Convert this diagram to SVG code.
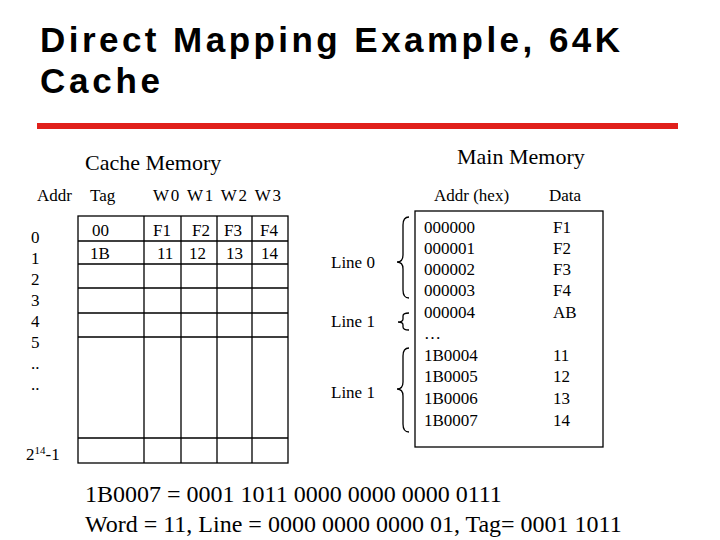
<svg xmlns="http://www.w3.org/2000/svg" width="720" height="540" viewBox="0 0 720 540">
<style>
.t{font-family:"Liberation Sans",Arial,sans-serif;font-weight:bold;font-size:35px;fill:#000}
.s{font-family:"Liberation Serif","Times New Roman",serif;font-size:17px;fill:#000}
.m{font-family:"Liberation Serif","Times New Roman",serif;font-size:22px;fill:#000}
.b{font-family:"Liberation Serif","Times New Roman",serif;font-size:24px;fill:#000}
.ln{stroke:#000;stroke-width:1.3;fill:none}
</style>
<rect width="720" height="540" fill="#fff"/>
<g id="title">
<text class="t" x="40" y="52" textLength="580" lengthAdjust="spacing">Direct Mapping Example, 64K</text>
<text class="t" x="40" y="93" textLength="120" lengthAdjust="spacing">Cache</text>
<rect x="37" y="123" width="641" height="6" fill="#e0201b"/>
</g>
<g id="cache">
<text class="m" x="85" y="170">Cache Memory</text>
<text class="s" x="37" y="201">Addr</text>
<text class="s" x="90" y="201">Tag</text>
<text class="s" x="153" y="201" textLength="128" lengthAdjust="spacing">W0  W1  W2  W3</text>
<rect class="ln" x="78" y="216" width="210" height="247"/>
<path class="ln" d="M78 241H288M78 264H288M78 288H288M78 313H288M78 337H288M78 438H288M144 216V463M181 216V463M217 216V463M252 216V463"/>
<g class="s">
<text x="31" y="243">0</text><text x="31" y="264">1</text><text x="31" y="285">2</text><text x="31" y="306">3</text><text x="31" y="327">4</text><text x="31" y="348">5</text><text x="31" y="369">..</text><text x="31" y="390">..</text>
<text x="26" y="460">2<tspan font-size="11" dy="-6">14</tspan><tspan dy="6">-1</tspan></text>
<text x="92" y="236">00</text><text x="90" y="259">1B</text>
<text x="153" y="236">F1</text><text x="192" y="236">F2</text><text x="224" y="236">F3</text><text x="260" y="236">F4</text>
<text x="157" y="259">11</text><text x="189" y="259">12</text><text x="226" y="259">13</text><text x="261" y="259">14</text>
</g>
</g>
<g id="mainmem">
<text class="m" x="457" y="164">Main Memory</text>
<text class="s" x="434" y="201">Addr (hex)</text>
<text class="s" x="549" y="201">Data</text>
<rect class="ln" x="415" y="211" width="188" height="236"/>
<g class="s">
<text x="424" y="233">000000</text><text x="424" y="254">000001</text><text x="424" y="275">000002</text><text x="424" y="296">000003</text><text x="424" y="318">000004</text><text x="424" y="339">…</text>
<text x="424" y="361">1B0004</text><text x="424" y="382">1B0005</text><text x="424" y="404">1B0006</text><text x="424" y="426">1B0007</text>
<text x="553" y="233">F1</text><text x="553" y="254">F2</text><text x="553" y="275">F3</text><text x="553" y="296">F4</text><text x="553" y="318">AB</text>
<text x="553" y="361">11</text><text x="553" y="382">12</text><text x="553" y="404">13</text><text x="553" y="426">14</text>
</g>
</g>
<g id="connectors">
<path class="ln" d="M409 217Q403 217 403 225V255Q403 262 397 262Q403 262 403 269V290Q403 298 409 298"/>
<path class="ln" d="M409 313Q403 313 403 316V319Q403 322 398 322Q403 322 403 325V327Q403 330 409 330"/>
<path class="ln" d="M409 348Q403 348 403 356V382Q403 389 397 389Q403 389 403 396V424Q403 432 409 432"/>
<text class="s" x="331" y="268">Line 0</text>
<text class="s" x="331" y="327">Line 1</text>
<text class="s" x="331" y="398">Line 1</text>
</g>
<g id="notes">
<text class="b" x="85" y="502">1B0007 = 0001 1011 0000 0000 0000 0111</text>
<text class="b" x="85" y="532">Word = 11, Line = 0000 0000 0000 01, Tag= 0001 1011</text>
</g>
</svg>
